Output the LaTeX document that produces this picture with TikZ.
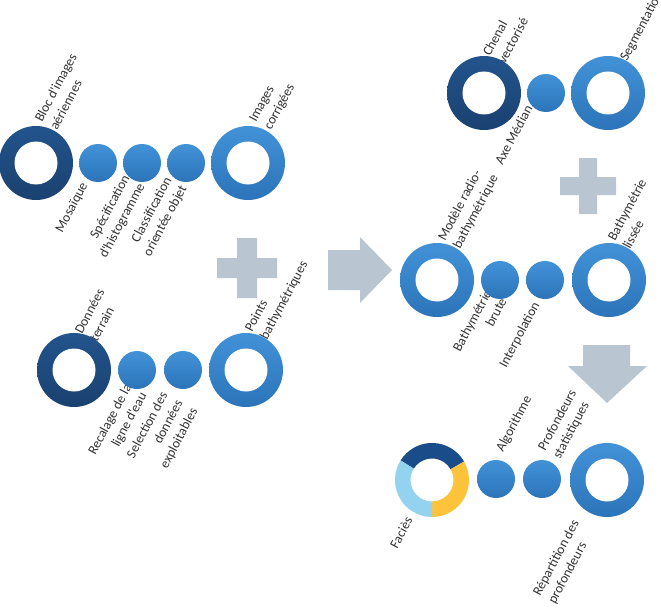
\documentclass[tikz,border=0pt]{standalone}
\usepackage{fontspec}
\newfontfamily\lblfont{Carlito}
\definecolor{navyT}{HTML}{22548C}
\definecolor{navyB}{HTML}{1A4170}
\definecolor{blueT}{HTML}{4292D8}
\definecolor{blueB}{HTML}{2C74B9}
\definecolor{shapegray}{HTML}{B9C6D2}
\definecolor{facdark}{HTML}{1B4C8A}
\definecolor{facyellow}{HTML}{FDC43B}
\definecolor{faclight}{HTML}{93D3F0}
\definecolor{txt}{HTML}{333333}
\tikzset{
  ringdark/.style={circle, minimum size=74pt, inner sep=0pt, top color=navyT, bottom color=navyB,
    path picture={\fill[white] (path picture bounding box.center) circle (21.5pt);}},
  ringblue/.style={circle, minimum size=74pt, inner sep=0pt, top color=blueT, bottom color=blueB,
    path picture={\fill[white] (path picture bounding box.center) circle (21.5pt);}},
  dotblue/.style={circle, minimum size=38pt, inner sep=0pt, top color=blueT, bottom color=blueB},
  ringplain/.style={circle, minimum size=74pt, inner sep=0pt},
  lbl/.style={rotate=62, inner sep=0pt, text=txt, font={\lblfont\fontsize{13.5}{17}\selectfont}},
  lblL/.style={lbl, align=left, anchor=base west},
  lblR/.style={lbl, align=right, anchor=base east},
  shapefill/.style={fill=shapegray}
}
\begin{document}
\begin{tikzpicture}[x=1pt,y=-1pt]
\fill[white] (0,0) rectangle (661,615);
\useasboundingbox (0,0) rectangle (661,615);

% ---- labels (anchored on the baseline of their last line)
\node[lblL] (l1) at (57,131) {Bloc d'images\\aériennes};
\node[lblL] (l2) at (271,131) {Images\\corrigées};
\node[lblR] (l3) at (88,185) {Mosaïque};
\node[lblR] (l4) at (145,186) {Spécification\\d'histogramme};
\node[lblR] (l5) at (187,188) {Classification\\orientée objet};
\node[lblL] (l6) at (97,343) {Données\\terrain};
\node[lblL] (l7) at (267,341) {Points\\bathymétriques};
\node[lblR] (l8) at (147,395) {Recalage de la\\ligne d'eau};
\node[lblR] (l9) at (198,411) {Selection des\\données\\exploitables};
\node[lblL] (l10) at (505,65) {Chenal\\vectorisé};
\node[lblR] (l11) at (533,108) {Axe Médian};
\node[lblL] (l12) at (627,62) {Segmentation};
\node[lblL] (l13) at (460,250) {Modèle radio-\\bathymétrique};
\node[lblR] (l14) at (507,301) {Bathymétrie\\brute};
\node[lblR] (l15) at (540,305) {Interpolation};
\node[lblL] (l16) at (630,250) {Bathymétrie\\lissée};
\node[lblL] (l17) at (503,453) {Algorithme};
\node[lblL] (l18) at (560,460) {Profondeurs\\statistiques};
\node[lblR] (l19) at (413,520) {Faciès};
\node[lblL] (l20) at (555,605) {Répartition des\\profondeurs};

% ---- row 1
\node[ringdark] (a1) at (36,163) {};
\node[dotblue] (a2) at (98,163) {};
\node[dotblue] (a3) at (142,163) {};
\node[dotblue] (a4) at (186,163) {};
\node[ringblue] (a5) at (248,163) {};

% ---- row 2
\node[ringdark] (b1) at (74,370) {};
\node[dotblue] (b2) at (137,370) {};
\node[dotblue] (b3) at (183,370) {};
\node[ringblue] (b4) at (246,370) {};

% ---- top right row
\node[ringdark] (c1) at (484,93) {};
\node[dotblue] (c2) at (546,93) {};
\node[ringblue] (c3) at (608,93) {};

% ---- middle right row
\node[ringblue] (d1) at (437,280) {};
\node[dotblue] (d2) at (500,280) {};
\node[dotblue] (d3) at (545,280) {};
\node[ringblue] (d4) at (609,280) {};

% ---- bottom row
\node[ringplain] (e1) at (432,480) {};
\fill[facdark] (e1.center) ++(30:37pt) arc[start angle=30, end angle=148, radius=37pt]
  -- ++(148:-15.5pt) arc[start angle=148, end angle=30, radius=21.5pt] -- cycle;
\fill[facyellow] (e1.center) ++(-90:37pt) arc[start angle=-90, end angle=30, radius=37pt]
  -- ++(30:-15.5pt) arc[start angle=30, end angle=-90, radius=21.5pt] -- cycle;
\fill[faclight] (e1.center) ++(148:37pt) arc[start angle=148, end angle=270, radius=37pt]
  -- ++(270:-15.5pt) arc[start angle=270, end angle=148, radius=21.5pt] -- cycle;
\node[dotblue] (e2) at (496,479) {};
\node[dotblue] (e3) at (542,479) {};
\node[ringblue] (e4) at (607,480) {};

% ---- plus signs and arrows
\fill[shapefill] (217,258) rectangle (277,278) (237,238) rectangle (257,298);
\fill[shapefill] (560,177) rectangle (616,195) (579,158) rectangle (597,214);
\fill[shapefill] (328,250) -- (360,250) -- (360,237) -- (392,270) -- (360,303) -- (360,290) -- (328,290) -- cycle;
\fill[shapefill] (583,345) -- (630,345) -- (630,366) -- (647,366) -- (607,403) -- (568,366) -- (583,366) -- cycle;
\end{tikzpicture}
\end{document}
